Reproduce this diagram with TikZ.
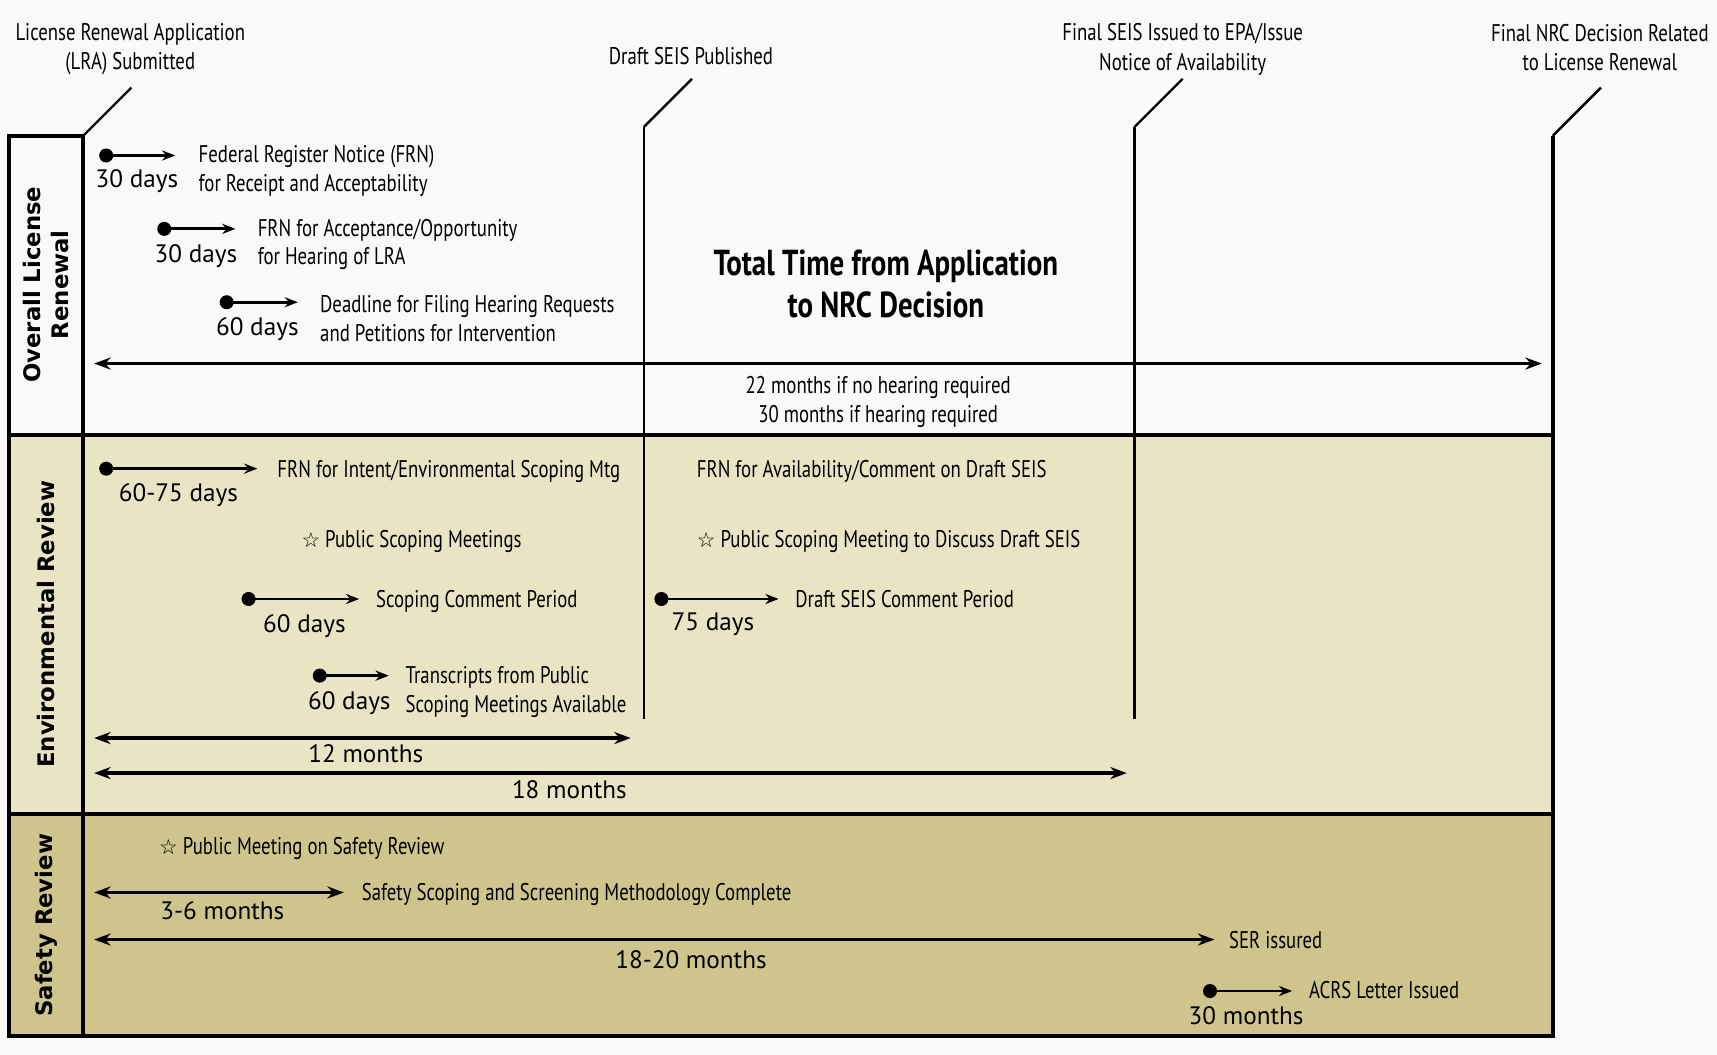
\documentclass[tikz,border=0pt]{standalone}
\usepackage{fontspec}
\setmainfont{PT Sans}
\newfontfamily\narrowfont[FakeStretch=0.78]{PT Sans}
\newfontfamily\titlefont[FakeStretch=0.8]{PT Sans}
\newfontfamily\sidefont{DejaVu Sans}
\newfontfamily\starfont{DejaVu Sans}
\usetikzlibrary{arrows.meta}
\definecolor{paper}{RGB}{251,249,247}
\definecolor{envband}{RGB}{232,228,196}
\definecolor{safeband}{RGB}{206,196,140}
\newcommand{\mystar}{{\starfont\fontsize{9.5}{9.5}\selectfont ☆}}

\begin{document}
\begin{tikzpicture}[x=0.5pt,y=-0.5pt]
	\tikzset{mypoints/.style={fill=black},
		myarrow/.style={line width=1.3pt,-{Stealth[length=6pt,width=4.6pt]}},
		myspan/.style={line width=1.6pt,{Stealth[length=7.5pt,width=5.5pt]}-{Stealth[length=7.5pt,width=5.5pt]}},
		frame/.style={line width=1.8pt},
		marker/.style={line width=1.1pt},
		note/.style={font=\narrowfont\fontsize{11}{13}\selectfont,inner sep=0pt,align=left},
		days/.style={font=\fontsize{11.5}{13}\selectfont,inner sep=0pt,anchor=base},
		milestone/.style={font=\narrowfont\fontsize{11}{13.5}\selectfont,inner sep=0pt,align=center},
		phase/.style={font=\sidefont\bfseries\fontsize{10.4}{12.5}\selectfont,rotate=90,align=center,inner sep=0pt}}
	\def\ptsize{3.2pt}
	% page and bands
	\useasboundingbox[fill=paper] (0,0) rectangle (1568,963);
	\fill[envband] (8,397) rectangle (1418,743);
	\fill[safeband] (8,743) rectangle (1418,946);
	% milestone lines
	\coordinate (LRA) at (76,124);
	\coordinate (DS) at (588,116);
	\coordinate (FS) at (1036,116);
	\coordinate (ND) at (1418,124);
	\foreach \p in {LRA,DS,FS,ND}
		\draw[marker] (\p) -- ++(44,-44);
	\draw[marker] (DS) -- (588,657);
	\draw[marker] (FS) -- (1036,657);
	\draw[frame] (LRA) -- (8,124) -- (8,946) -- (1418,946) -- (ND);
	\draw[frame] (LRA) -- (76,946);
	\draw[frame] (8,397) -- (1418,397) (8,743) -- (1418,743);
	\node[milestone] (lraText) at (119,45) {License Renewal Application\\(LRA) Submitted};
	\node[milestone,anchor=base] (dsText) at (631,59) {Draft SEIS Published};
	\node[milestone] (fsText) at (1080,45) {Final SEIS Issued to EPA/Issue\\Notice of Availability};
	\node[milestone] (ndText) at (1461,43.5) {Final NRC Decision Related\\to License Renewal};
	% phases
	\node[phase] (overall) at (42,260) {Overall License\\Renewal};
	\node[phase] (env) at (42,570) {Environmental Review};
	\node[phase] (safety) at (42,845) {Safety Review};
	% notices with a start dot
	\coordinate (a1) at (97,142);   \coordinate (b1) at (160,142);
	\coordinate (a2) at (150,209);  \coordinate (b2) at (215,209);
	\coordinate (a3) at (207,276);  \coordinate (b3) at (272,276);
	\coordinate (a4) at (97,428);   \coordinate (b4) at (235,428);
	\coordinate (a5) at (227,547);  \coordinate (b5) at (328,547);
	\coordinate (a6) at (292,617);  \coordinate (b6) at (355,617);
	\coordinate (a7) at (604,547);  \coordinate (b7) at (711,547);
	\coordinate (a8) at (1105,905); \coordinate (b8) at (1180,905);
	\foreach \i in {1,...,8}
		\draw[myarrow] (a\i) -- (b\i);
	\foreach \i in {1,...,8}
		\fill[mypoints] (a\i) circle (\ptsize);
	% overall license renewal
	\node[days] (d1) at (125,171) {30 days};
	\node[note,anchor=west] (frnA) at (181,156) {Federal Register Notice (FRN)\\for Receipt and Acceptability};
	\node[days] (d2) at (179,240) {30 days};
	\node[note,anchor=west] (frnB) at (235,223.5) {FRN for Acceptance/Opportunity\\for Hearing of LRA};
	\node[days] (d3) at (235,306) {60 days};
	\node[note,anchor=west] (deadline) at (292,291) {Deadline for Filing Hearing Requests\\and Petitions for Intervention};
	\node[font=\titlefont\bfseries\fontsize{16.5}{19}\selectfont,align=center] (total) at (809,259) {Total Time from Application\\to NRC Decision};
	\coordinate (t1) at (86,332); \coordinate (t2) at (1408,332);
	\draw[myspan] (t1) -- (t2);
	\node[note,align=center] (months) at (802,367) {22 months if no hearing required\\30 months if hearing required};
	% environmental review
	\node[days] (d4) at (163,458) {60-75 days};
	\node[note,anchor=base west] (intent) at (253,436) {FRN for Intent/Environmental Scoping Mtg};
	\node[note,anchor=base west] (meetA) at (275,500) {\mystar{} Public Scoping Meetings};
	\node[days] (d5) at (278,578) {60 days};
	\node[note,anchor=base west] (comment) at (343,555) {Scoping Comment Period};
	\node[days] (d6) at (319,648) {60 days};
	\node[note,anchor=west] (transcripts) at (370,632) {Transcripts from Public\\Scoping Meetings Available};
	\coordinate (e1) at (86,674); \coordinate (e2) at (576,674);
	\draw[myspan] (e1) -- (e2);
	\node[days] (m12) at (334,696) {12 months};
	\coordinate (e3) at (86,706); \coordinate (e4) at (1029,706);
	\draw[myspan] (e3) -- (e4);
	\node[days] (m18) at (520,729) {18 months};
	\node[note,anchor=base west] (avail) at (636,436) {FRN for Availability/Comment on Draft SEIS};
	\node[note,anchor=base west] (meetB) at (636,500) {\mystar{} Public Scoping Meeting to Discuss Draft SEIS};
	\node[days] (d7) at (651,576) {75 days};
	\node[note,anchor=base west] (draftC) at (726,555) {Draft SEIS Comment Period};
	% safety review
	\node[note,anchor=base west] (meetC) at (145,780) {\mystar{} Public Meeting on Safety Review};
	\coordinate (s1) at (86,815); \coordinate (s2) at (314,815);
	\draw[myspan] (s1) -- (s2);
	\node[note,anchor=base west] (method) at (330,822) {Safety Scoping and Screening Methodology Complete};
	\node[days] (m36) at (203,840) {3-6 months};
	\coordinate (s3) at (86,858); \coordinate (s4) at (1109,858);
	\draw[myspan] (s3) -- (s4);
	\node[note,anchor=base west] (ser) at (1122,866) {SER issured};
	\node[days] (m1820) at (631,884) {18-20 months};
	\node[days] (m30) at (1138,936) {30 months};
	\node[note,anchor=base west] (acrs) at (1195,912) {ACRS Letter Issued};
\end{tikzpicture}
\end{document}
